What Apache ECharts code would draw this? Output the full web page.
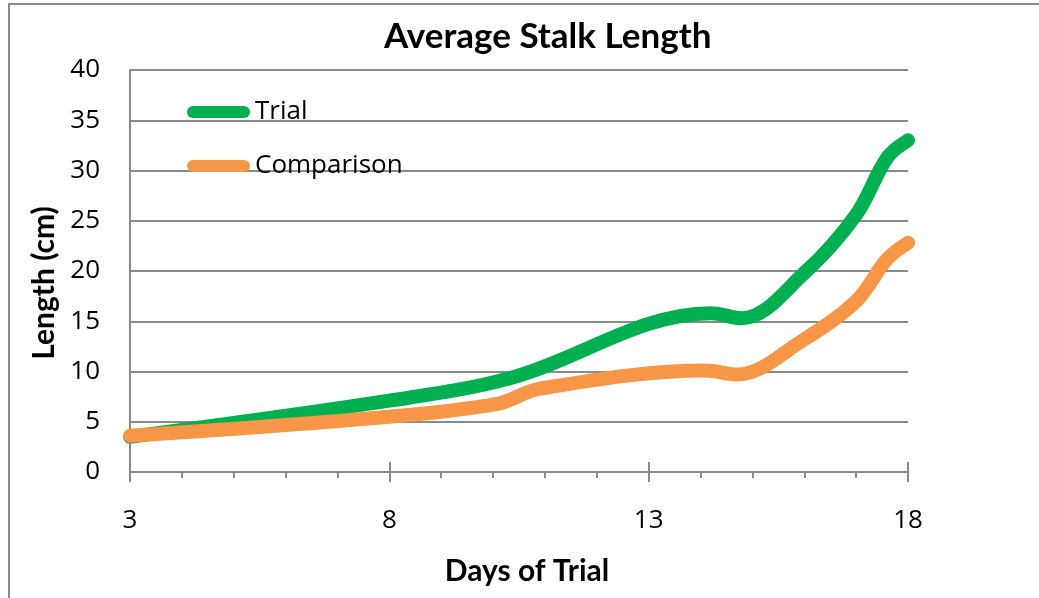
<!DOCTYPE html>
<html>
<head>
<meta charset="utf-8">
<script src="https://cdn.jsdelivr.net/npm/echarts@6/dist/echarts.min.js"></script>
<style>
html,body{margin:0;padding:0;background:#fff;}
#chart{width:1039px;height:598px;}
</style>
</head>
<body>
<div id="chart"></div>
<script>
// Data (day, length in cm)
const trialDays   = [3,   8,   10.3, 14.2, 14.8, 16,   17,   17.6, 18];
const trialValues = [3.5, 7.1, 9.3,  15.8, 15.3, 19.8, 25.6, 31.3, 33.0];
const compDays    = [3,   8,   10.1, 10.9, 14.1, 14.7, 16,   17,   17.6, 18];
const compValues  = [3.6, 5.5, 6.8,  8.3,  10.1, 9.7,  13.2, 17.0, 21.2, 22.8];
const seriesNames = ['Trial', 'Comparison'];
const xLabelTicks = [3, 8, 13, 18];

const BOLD = 'Lato, "Open Sans", sans-serif';
const REG = '"Open Sans", Lato, sans-serif';
const GRAY = '#8a8a8a';

function pairs(xs, ys){ return xs.map((x,i)=>[x, ys[i]]); }

const chart = echarts.init(document.getElementById('chart'), null, {renderer:'canvas'});
const option = {
  backgroundColor: '#fff',
  animation: false,
  title: {
    text: 'Average Stalk Length',
    left: 384, top: 19, padding: 0,
    textStyle: {fontFamily: BOLD, fontWeight: 'bold', fontSize: 35, color: '#000'}
  },
  legend: {
    orient: 'vertical', left: 187, top: 99, itemGap: 28, padding: 0,
    itemWidth: 63, itemHeight: 13,
    icon: 'path://M6,0 L57,0 A6,6 0 0 1 57,12 L6,12 A6,6 0 0 1 6,0 Z',
    textStyle: {fontFamily: REG, fontSize: 26, color: '#000'},
    data: seriesNames
  },
  graphic: [{
    type: 'rect', shape: {x: 9, y: 4, width: 1100, height: 700},
    style: {fill: 'none', stroke: GRAY, lineWidth: 2}, silent: true
  }],
  grid: {left: 130, right: 131, top: 70, bottom: 126},
  xAxis: [{
    type: 'value', min: 3, max: 18, interval: 1,
    name: 'Days of Trial', nameLocation: 'middle', nameGap: 84,
    nameTextStyle: {fontFamily: BOLD, fontWeight: 'bold', fontSize: 30, color: '#000', padding: [0, 0, 0, 16]},
    axisLine: {show: true, lineStyle: {color: GRAY, width: 2}},
    axisTick: {show: true, length: 6, lineStyle: {color: GRAY, width: 2}},
    splitLine: {show: false},
    axisLabel: {
      margin: 36, fontFamily: REG, fontSize: 26, color: '#000',
      formatter: v => xLabelTicks.includes(Math.round(v*1000)/1000) ? String(v) : ''
    }
  }, {
    type: 'value', min: 3, max: 18, interval: 5, position: 'bottom',
    axisLine: {show: false},
    axisTick: {show: true, inside: true, length: 10, lineStyle: {color: GRAY, width: 2}},
    axisLabel: {show: false}, splitLine: {show: false}
  }, {
    type: 'value', min: 3, max: 18, interval: 5, position: 'bottom',
    axisLine: {show: false},
    axisTick: {show: true, length: 10, lineStyle: {color: GRAY, width: 2}},
    axisLabel: {show: false}, splitLine: {show: false}
  }],
  yAxis: {
    type: 'value', min: 0, max: 40, interval: 5,
    name: 'Length (cm)', nameLocation: 'middle', nameGap: 70,
    nameTextStyle: {fontFamily: BOLD, fontWeight: 'bold', fontSize: 30, color: '#000', padding: [0, 24, 0, 0]},
    axisLine: {show: true, lineStyle: {color: GRAY, width: 2}},
    axisTick: {show: false},
    splitLine: {show: true, lineStyle: {color: GRAY, width: 2}},
    axisLabel: {margin: 30, fontFamily: REG, fontSize: 26, color: '#000'}
  },
  series: [{
    name: seriesNames[0], type: 'line', xAxisIndex: 0,
    data: pairs(trialDays, trialValues),
    smooth: 0.35, showSymbol: false, symbol: 'none',
    lineStyle: {color: '#00B050', width: 14, cap: 'round', join: 'round'},
    itemStyle: {color: '#00B050'}
  }, {
    name: seriesNames[1], type: 'line', xAxisIndex: 0,
    data: pairs(compDays, compValues),
    smooth: 0.35, showSymbol: false, symbol: 'none',
    lineStyle: {color: '#F79646', width: 14, cap: 'round', join: 'round'},
    itemStyle: {color: '#F79646'}
  }]
};
chart.setOption(option);
</script>
</body>
</html>
